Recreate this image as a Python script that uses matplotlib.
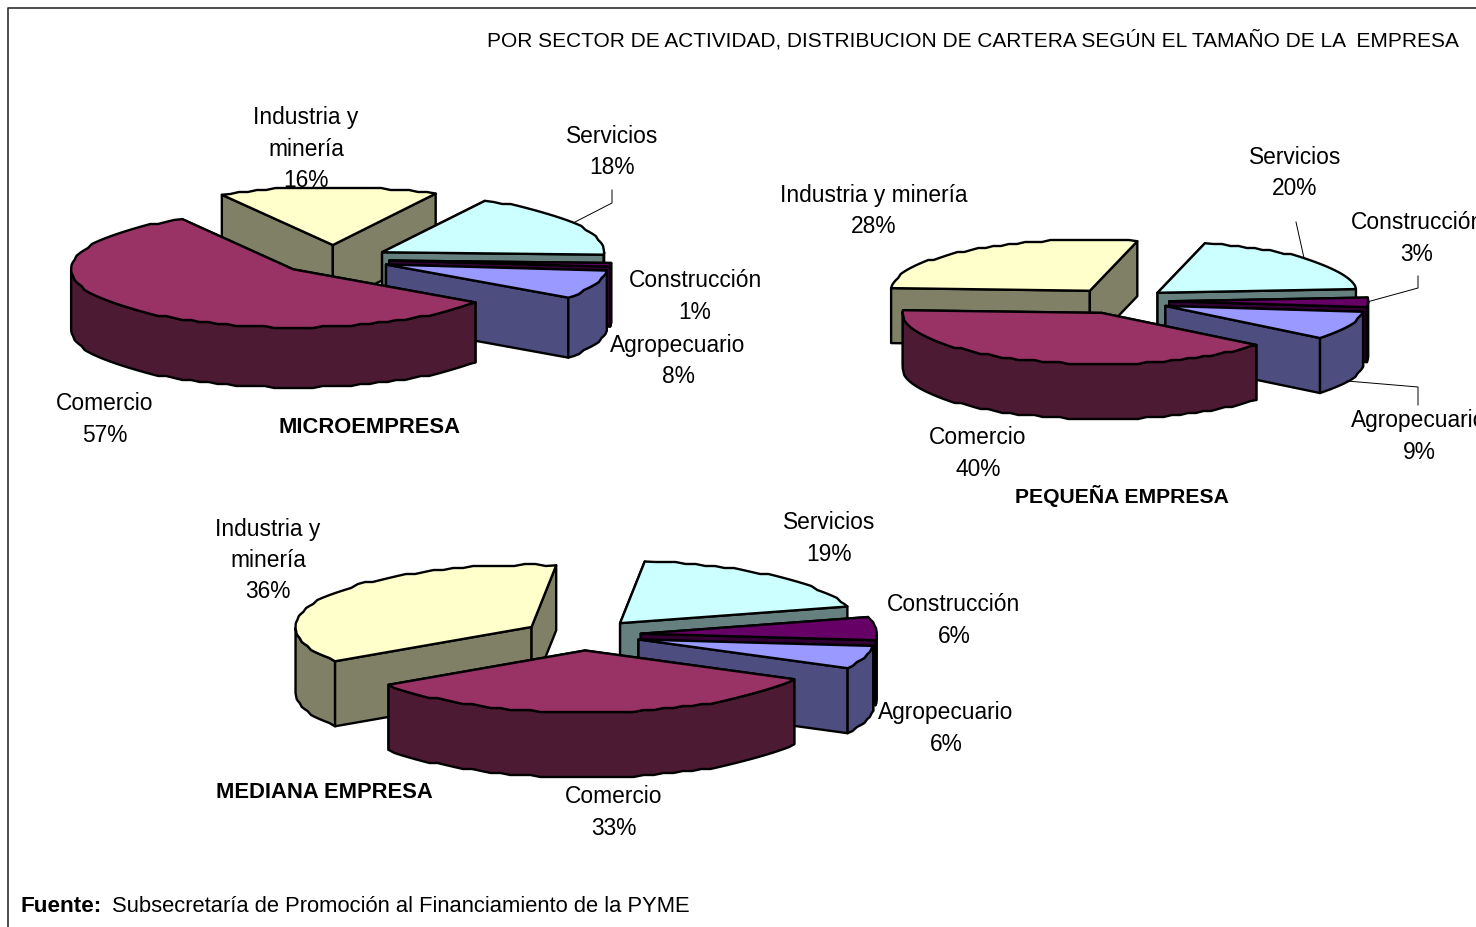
import numpy as np
import matplotlib
matplotlib.use("Agg")
import matplotlib.pyplot as plt
from matplotlib.patches import Polygon

plt.rcParams["font.family"] = ["Liberation Sans", "DejaVu Sans"]

# ------------------------------------
# 1. Data
# ------------------------------------
sectors = ["Industria y minería", "Servicios", "Construcción", "Agropecuario", "Comercio"]
micro_values = [16, 18, 1, 8, 57]
pequena_values = [28, 20, 3, 9, 40]
mediana_values = [36, 19, 6, 6, 33]

title_text = "POR SECTOR DE ACTIVIDAD, DISTRIBUCION DE CARTERA SEGÚN EL TAMAÑO DE LA  EMPRESA"
source_bold = "Fuente:"
source_text = "Subsecretaría de Promoción al Financiamiento de la PYME"

# ------------------------------------
# 2. Colours and layout
# ------------------------------------
top_colors = ["#FFFFCC", "#CCFFFF", "#660066", "#9999FF", "#993366"]
side_colors = ["#808066", "#668080", "#330033", "#4D4D80", "#4D1A33"]

FONT_SIZE = 16.4
LINE_WIDTH = 1.7
GRID = 2.0  # the rim of the original is stepped, snap it to a coarse grid

# centre x, centre y, radius x, radius y, depth, explode, start angle
micro_shape = (334, 259.5, 222, 58, 60, 0.25, 120)
pequena_shape = (1119.5, 301, 199, 51, 55, 0.25, 177)
mediana_shape = (582, 635, 236, 62, 65, 0.25, 213.6)

# label centres, same order as sectors
micro_labels = [(306, 149), (612, 152), (695, 296.5), (678, 361), (105, 419.5)]
pequena_labels = [(874, 211), (1295, 173), (1417, 238.5), (1419, 436.5), (978, 453.5)]
mediana_labels = [(268, 560.5), (829, 538.5), (954, 620.5), (946, 728.5), (614, 812.5)]

# leader lines: lists of x and y
leaders = [
    ([575, 612, 612], [222, 203, 190]),
    ([1304, 1296], [258, 222]),
    ([1367, 1418, 1418], [302, 288, 276]),
    ([1347, 1418, 1418], [381, 387, 405]),
]


def slice_points(cx, cy, rx, ry, a1, a2):
    # a1 > a2, going clockwise like the pie
    steps = max(int((a1 - a2) / 2.5), 2)
    ang = np.radians(np.linspace(a1, a2, steps + 1))
    x = cx + rx * np.cos(ang)
    y = cy - ry * np.sin(ang)
    # keep the exact ends so the straight edges stay straight
    y[1:-1] = np.round(y[1:-1] / GRID) * GRID
    return x, y, ang


def draw_wall(ax, x, y, depth, color):
    pts = np.column_stack([
        np.concatenate([x, x[::-1]]),
        np.concatenate([y, y[::-1] + depth]),
    ])
    ax.add_patch(Polygon(pts, closed=True, facecolor=color, edgecolor="black",
                         linewidth=LINE_WIDTH, joinstyle="round"))


def draw_pie(ax, values, shape):
    cx, cy, rx, ry, depth, explode, start = shape
    angle = start
    # values are in drawing order, back slices first and Comercio on top
    for value, top, side in zip(values, top_colors, side_colors):
        sweep = value * 3.6
        a1, a2 = angle, angle - sweep
        mid = np.radians((a1 + a2) / 2)
        ox = cx + rx * explode * np.cos(mid)
        oy = cy - ry * explode * np.sin(mid)

        x, y, ang = slice_points(ox, oy, rx, ry, a1, a2)

        # the two straight walls, then the front of the rim, then the top
        draw_wall(ax, np.array([ox, x[0]]), np.array([oy, y[0]]), depth, side)
        draw_wall(ax, np.array([ox, x[-1]]), np.array([oy, y[-1]]), depth, side)
        front = np.sin(ang) <= 0.02
        if front.any():
            draw_wall(ax, x[front], y[front], depth, side)

        pts = np.column_stack([np.r_[ox, x], np.r_[oy, y]])
        ax.add_patch(Polygon(pts, closed=True, facecolor=top, edgecolor="black",
                             linewidth=LINE_WIDTH, joinstyle="round"))
        angle = a2


def draw_labels(ax, values, positions, names):
    for name, value, (x, y) in zip(names, values, positions):
        ax.text(x, y, f"{name}\n{value}%", ha="center", va="center",
                fontsize=FONT_SIZE, linespacing=1.45, color="black")


# ------------------------------------
# 3. Figure
# ------------------------------------
fig = plt.figure(figsize=(14.76, 9.27), dpi=100)
ax = fig.add_axes([0, 0, 1, 1])
ax.set_xlim(0, 1476)
ax.set_ylim(927, 0)
ax.axis("off")

ax.plot([8, 8, 1476], [927, 8, 8], color="#303030", linewidth=1.2)

draw_pie(ax, micro_values, micro_shape)
draw_pie(ax, pequena_values, pequena_shape)
draw_pie(ax, mediana_values, mediana_shape)

for lx, ly in leaders:
    ax.plot(lx, ly, color="black", linewidth=0.7)

two_lines = ["Industria y\nminería"] + sectors[1:]
draw_labels(ax, micro_values, micro_labels, two_lines)
draw_labels(ax, pequena_values, pequena_labels, sectors)
draw_labels(ax, mediana_values, mediana_labels, two_lines)

ax.text(370, 427, "MICROEMPRESA", ha="center", va="center", fontsize=15.8, fontweight="bold")
ax.text(1122, 496, "PEQUEÑA EMPRESA", ha="center", va="center", fontsize=15.2, fontweight="bold")
ax.text(324, 792, "MEDIANA EMPRESA", ha="center", va="center", fontsize=15.8, fontweight="bold")

ax.text(487, 40.5, title_text, ha="left", va="center", fontsize=15.04)
ax.text(21, 912, source_bold, ha="left", va="baseline", fontsize=16.2, fontweight="bold")
ax.text(112, 912, source_text, ha="left", va="baseline", fontsize=15.85)

fig.savefig("out.png", dpi=100)
plt.close(fig)
